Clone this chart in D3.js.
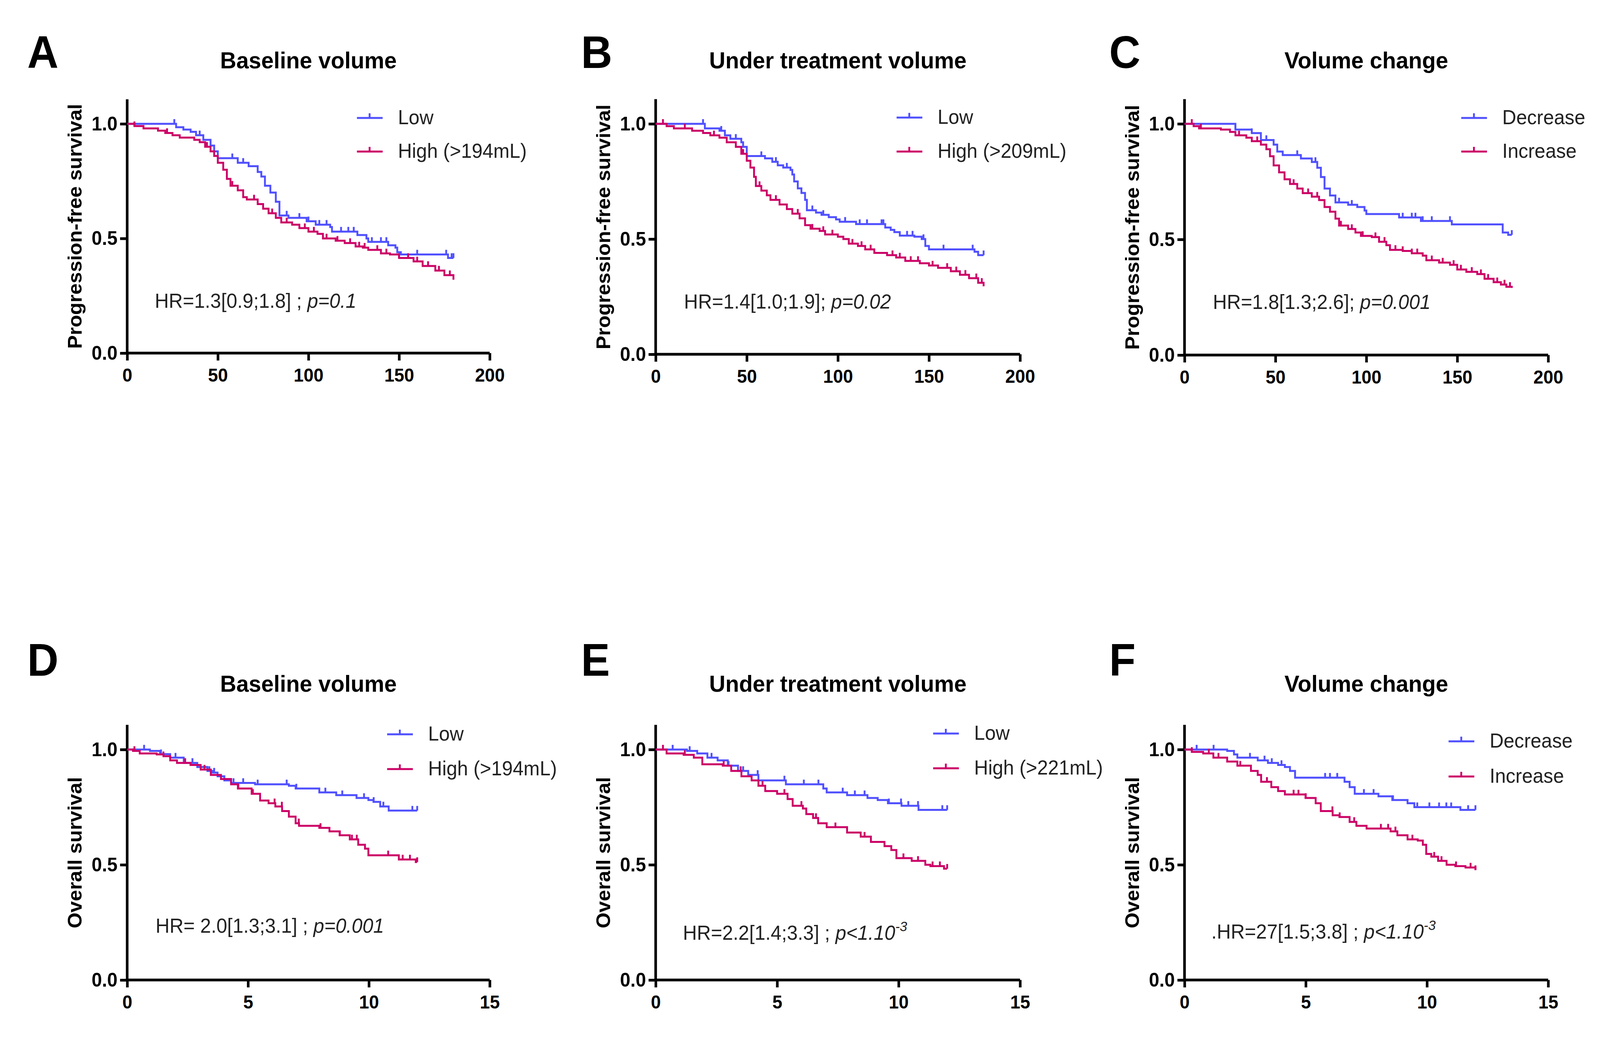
<!DOCTYPE html>
<html lang="en">
<head>
<meta charset="UTF-8">
<title>Kaplan-Meier curves by tumour volume</title>
<script src="https://d3js.org/d3.v7.min.js"></script>
<style>
  html, body { margin: 0; padding: 0; background: #fff; overflow: hidden; }
  #chart { display: block; width: 100vw; height: 100vh; }
  text { font-family: "Liberation Sans", Arial, sans-serif; }
</style>
</head>
<body>
<svg id="chart"></svg>
<script>
// ---- data: [time, survival after the step] ----
const pfsBaseLow = [[27,0.985],[31,0.975],[35,0.965],[38,0.95],[42,0.93],[46,0.905],[48,0.88],[50,0.85],[61,0.83],[67,0.815],[72,0.79],[74,0.77],[76,0.73],[79,0.70],[82,0.66],[84,0.60],[89,0.59],[99,0.575],[104,0.56],[112,0.55],[113,0.53],[127,0.515],[132,0.50],[133,0.485],[144,0.47],[148,0.46],[149,0.44],[151,0.43],[177,0.415]];
const pfsBaseHigh = [[4,0.99],[9,0.98],[17,0.97],[21,0.96],[25,0.95],[29,0.94],[37,0.93],[40,0.92],[43,0.90],[46,0.88],[48,0.86],[50,0.83],[53,0.80],[55,0.76],[57,0.73],[61,0.71],[64,0.68],[66,0.67],[72,0.65],[75,0.63],[78,0.61],[82,0.59],[85,0.57],[91,0.56],[95,0.545],[100,0.53],[105,0.52],[108,0.50],[115,0.49],[120,0.48],[126,0.465],[130,0.46],[133,0.45],[140,0.435],[145,0.43],[150,0.415],[158,0.40],[163,0.38],[170,0.36],[175,0.34],[180,0.32]];
const pfsTreatLow = [[27,0.98],[35,0.97],[38,0.95],[41,0.935],[47,0.92],[48,0.90],[50,0.86],[60,0.85],[64,0.835],[67,0.82],[70,0.81],[74,0.80],[75,0.78],[76,0.75],[78,0.72],[80,0.70],[82,0.67],[83,0.625],[88,0.615],[91,0.605],[95,0.595],[99,0.585],[101,0.575],[110,0.565],[126,0.55],[129,0.54],[131,0.53],[134,0.515],[142,0.51],[146,0.50],[148,0.47],[150,0.455],[175,0.445],[177,0.43]];
const pfsTreatHigh = [[6,0.99],[10,0.98],[20,0.97],[26,0.96],[30,0.95],[35,0.94],[39,0.92],[44,0.90],[47,0.87],[50,0.84],[52,0.81],[54,0.77],[55,0.73],[58,0.71],[61,0.69],[63,0.67],[68,0.65],[72,0.63],[75,0.61],[79,0.59],[82,0.56],[85,0.545],[90,0.535],[93,0.52],[100,0.51],[103,0.50],[106,0.48],[111,0.47],[115,0.455],[120,0.44],[127,0.43],[132,0.42],[137,0.405],[145,0.395],[150,0.385],[155,0.375],[162,0.36],[167,0.345],[172,0.33],[177,0.31],[180,0.295]];
const pfsChangeDec = [[28,0.975],[37,0.96],[42,0.93],[49,0.91],[51,0.88],[54,0.865],[64,0.85],[70,0.835],[73,0.81],[75,0.77],[77,0.72],[80,0.69],[83,0.66],[90,0.65],[95,0.64],[99,0.625],[100,0.61],[118,0.595],[130,0.58],[147,0.565],[175,0.53],[178,0.52]];
const pfsChangeInc = [[5,0.99],[8,0.98],[20,0.975],[25,0.965],[28,0.95],[34,0.94],[37,0.925],[42,0.91],[45,0.89],[47,0.86],[49,0.82],[52,0.79],[55,0.76],[58,0.74],[62,0.72],[65,0.70],[70,0.685],[74,0.67],[77,0.64],[80,0.62],[83,0.59],[85,0.56],[90,0.545],[94,0.53],[97,0.515],[103,0.51],[107,0.49],[111,0.475],[113,0.455],[120,0.45],[125,0.44],[131,0.43],[133,0.41],[140,0.40],[146,0.39],[150,0.37],[155,0.36],[161,0.35],[165,0.33],[170,0.315],[174,0.305],[177,0.295],[180,0.29]];

const osBaseLow = [[0.94,0.994],[1.36,0.98],[1.78,0.965],[2.34,0.942],[2.9,0.924],[3.32,0.907],[3.53,0.90],[3.74,0.884],[4.02,0.866],[4.3,0.855],[5.29,0.849],[6.69,0.843],[6.97,0.831],[7.95,0.814],[8.65,0.802],[9.49,0.79],[9.98,0.781],[10.19,0.773],[10.47,0.753],[10.82,0.735]];
const osBaseHigh = [[0.24,0.994],[0.52,0.983],[1.22,0.979],[1.5,0.971],[1.78,0.953],[2.06,0.942],[2.62,0.933],[3.04,0.913],[3.46,0.89],[3.88,0.872],[4.3,0.849],[4.58,0.831],[5.15,0.808],[5.5,0.779],[5.85,0.767],[6.13,0.753],[6.41,0.733],[6.69,0.709],[6.97,0.68],[7.11,0.669],[7.95,0.66],[8.37,0.645],[8.79,0.628],[9.21,0.61],[9.56,0.587],[9.84,0.57],[9.98,0.541],[11.24,0.523],[11.94,0.512]];
const osTreatLow = [[1.29,0.994],[1.71,0.983],[2.13,0.965],[2.55,0.953],[2.97,0.93],[3.39,0.907],[3.81,0.89],[4.23,0.866],[5.36,0.849],[6.9,0.831],[7.04,0.814],[7.88,0.802],[8.72,0.79],[9.14,0.781],[9.56,0.767],[10.12,0.756],[10.82,0.738]];
const osTreatHigh = [[0.45,0.983],[1.15,0.977],[1.57,0.965],[1.92,0.936],[2.76,0.93],[3.11,0.907],[3.53,0.884],[3.95,0.866],[4.23,0.843],[4.51,0.82],[5.0,0.808],[5.43,0.785],[5.64,0.756],[6.06,0.744],[6.2,0.72],[6.48,0.703],[6.69,0.68],[7.04,0.663],[7.88,0.64],[8.44,0.622],[8.86,0.599],[9.42,0.581],[9.7,0.564],[9.91,0.529],[10.54,0.517],[11.1,0.50],[11.31,0.494],[11.87,0.483]];
const osChangeDec = [[1.76,0.994],[2.04,0.979],[2.18,0.965],[3.02,0.953],[3.44,0.942],[3.86,0.933],[4.14,0.924],[4.35,0.907],[4.56,0.878],[6.6,0.86],[6.81,0.837],[7.02,0.808],[8.0,0.797],[8.57,0.781],[9.2,0.767],[9.48,0.75],[11.38,0.738]];
const osChangeInc = [[0.3,0.99],[0.77,0.983],[1.19,0.965],[1.76,0.948],[2.18,0.93],[2.74,0.907],[3.02,0.89],[3.16,0.86],[3.58,0.837],[3.86,0.82],[4.14,0.805],[4.99,0.79],[5.41,0.767],[5.62,0.733],[6.11,0.715],[6.39,0.707],[6.81,0.686],[7.09,0.669],[7.51,0.657],[8.5,0.645],[8.78,0.628],[9.2,0.61],[9.62,0.605],[9.83,0.587],[9.97,0.547],[10.18,0.535],[10.46,0.517],[10.81,0.50],[11.17,0.494],[11.59,0.488],[12.0,0.477]];

// censored times (tick marks)
const pfsBaseLowCens = [26,40,58,64,88,95,100,106,110,118,122,125,135,140,143,160,176,179,180];
const pfsBaseHighCens = [4,22,44,58,70,80,88,98,103,110,116,123,128,131,138,143,150,155,160,166,172,178];
const pfsTreatLowCens = [26,36,44,58,66,72,86,92,104,112,116,124,125,138,141,147,158,174,180];
const pfsTreatHighCens = [4,16,32,48,57,66,78,86,92,97,108,113,118,130,134,140,144,152,160,165,170,176,179];
const pfsChangeDecCens = [28,37,45,62,72,85,92,120,125,127,131,136,146,180];
const pfsChangeIncCens = [4,9,30,40,55,60,68,73,86,92,98,105,110,116,120,125,128,136,142,148,152,158,163,167,172,176,179];
const osBaseLowCens = [0.7,1.4,2.0,2.7,3.4,3.6,4.4,4.8,5.4,6.6,7.0,8.2,8.9,9.8,10.2,10.6,11.8,12.0];
const osBaseHighCens = [0.3,1.5,2.4,3.2,4.6,5.2,6.1,6.4,7.1,8.0,8.8,9.3,9.5,10.8,11.4,11.7,12.0];
const osTreatLowCens = [0.7,1.4,2.3,3.0,3.6,4.2,5.3,6.1,6.7,7.7,8.2,8.6,9.6,10.1,10.4,10.8,11.8,12.0];
const osTreatHighCens = [0.3,1.2,2.8,3.5,4.4,5.3,6.0,6.6,7.4,8.6,10.2,10.8,11.4,11.7,12.0];
const osChangeDecCens = [0.5,1.2,2.7,3.3,3.6,4.0,5.8,6.0,6.3,7.4,7.8,8.6,9.6,10.1,10.5,10.8,11.0,11.7,12.0];
const osChangeIncCens = [0.3,1.0,1.4,2.3,3.4,4.5,4.7,5.0,6.1,6.4,7.0,8.1,8.4,8.7,9.4,10.3,10.6,11.2,11.8,12.0];

const letters = ["A","B","C","D","E","F"];
const titles = ["Baseline volume","Under treatment volume","Volume change","Baseline volume","Under treatment volume","Volume change"];
const yLabels = ["Progression-free survival","Overall survival"];
const legendLabels = [["Low","High (>194mL)"],["Low","High (>209mL)"],["Decrease","Increase"],
                      ["Low","High (>194mL)"],["Low","High (>221mL)"],["Decrease","Increase"]];
const hrTexts = [["HR=1.3[0.9;1.8] ; ","p=0.1",""],["HR=1.4[1.0;1.9]; ","p=0.02",""],["HR=1.8[1.3;2.6]; ","p=0.001",""],
                 ["HR= 2.0[1.3;3.1] ; ","p=0.001",""],["HR=2.2[1.4;3.3] ; ","p<1.10","-3"],[".HR=27[1.5;3.8] ; ","p<1.10","-3"]];
const xTicksTop = [0,50,100,150,200];
const xTicksBottom = [0,5,10,15];
const yTicks = [0,0.5,1.0];
const curves = [
  [[pfsBaseLow,pfsBaseLowCens],[pfsBaseHigh,pfsBaseHighCens]],
  [[pfsTreatLow,pfsTreatLowCens],[pfsTreatHigh,pfsTreatHighCens]],
  [[pfsChangeDec,pfsChangeDecCens],[pfsChangeInc,pfsChangeIncCens]],
  [[osBaseLow,osBaseLowCens],[osBaseHigh,osBaseHighCens]],
  [[osTreatLow,osTreatLowCens],[osTreatHigh,osTreatHighCens]],
  [[osChangeDec,osChangeDecCens],[osChangeInc,osChangeIncCens]]
];

// ---- layout (pixels in a 4290 x 2678 frame) ----
const W = 4290, H = 2678;
const colX = [341, 1758, 3176];
const colW = [972, 977, 975];
const letterX = [73, 1558, 2974];
const letterY = [174, 1730];
const titleY = [175, 1771];
const axisY0 = [904, 907, 909, 2509, 2509, 2509];
const axisY1 = [317, 317, 317, 1919, 1919, 1919];
const colors = ["#5050ff", "#cc0066"];
// legend: [line start offset from y axis, y of first entry]
const legendPos = [[616, 302], [646, 301], [742, 302], [697, 1880], [744, 1878], [708, 1898]];
const legendGap = [86, 87, 86, 89, 89, 90];
const hrX = [74, 76, 76, 76, 73, 72];
const hrY = [0.198, 0.198, 0.2, 0.205, 0.175, 0.18];

// stretch the frame over the whole window
const svg = d3.select("#chart")
  .attr("viewBox", `0 0 ${W} ${H}`)
  .attr("preserveAspectRatio", "none");

letters.forEach((letter, i) => {
  const col = i % 3, row = Math.floor(i / 3);
  const x0 = colX[col], y0 = axisY0[i];
  const xMax = row === 0 ? 200 : 15;
  const x = d3.scaleLinear().domain([0, xMax]).range([x0, x0 + colW[col]]);
  const y = d3.scaleLinear().domain([0, 1]).range([y0, axisY1[i]]);

  // panel letter and title
  svg.append("text").attr("x", letterX[col]).attr("y", letterY[row])
     .attr("font-size", 116).attr("font-weight", "bold").text(letter);
  svg.append("text").attr("x", x0 + colW[col] / 2).attr("y", titleY[row])
     .attr("text-anchor", "middle").attr("font-size", 60).attr("font-weight", "bold").text(titles[i]);

  // axes
  const yAxis = svg.append("g").attr("transform", `translate(${x0},0)`)
     .call(d3.axisLeft(y).tickValues(yTicks).tickFormat(d3.format(".1f")).tickSize(19).tickPadding(7));
  yAxis.select(".domain").attr("d", `M0,${y0}V${y(1.107)}`);
  const xAxis = svg.append("g").attr("transform", `translate(0,${y0})`)
     .call(d3.axisBottom(x).tickValues(row === 0 ? xTicksTop : xTicksBottom).tickSize(19).tickPadding(20));
  xAxis.select(".domain").attr("d", `M${x0},0H${x0 + colW[col]}`);
  [yAxis, xAxis].forEach(g => {
    g.selectAll(".domain, line").attr("stroke", "#000").attr("stroke-width", 7);
    g.selectAll("text").attr("font-weight", "bold").attr("fill", "#000")
     .style("font-family", "Liberation Sans, Arial, sans-serif");
  });
  yAxis.selectAll("text").attr("font-size", 50);
  xAxis.selectAll("text").attr("font-size", 48);

  // y label
  svg.append("text")
     .attr("transform", `translate(${x0 - 122},${y(0.5) - 31}) rotate(-90)`)
     .attr("text-anchor", "middle").attr("font-size", 52).attr("font-weight", "bold")
     .text(yLabels[row]);

  // curves
  const line = d3.line().x(d => x(d[0])).y(d => y(d[1])).curve(d3.curveStepAfter);
  const end = row === 0 ? 180 : 12;
  curves[i].forEach(([steps, cens], k) => {
    const pts = [[0, 1], ...steps];
    if (pts[pts.length - 1][0] < end) pts.push([end, pts[pts.length - 1][1]]);
    svg.append("path").datum(pts).attr("d", line)
       .attr("fill", "none").attr("stroke", colors[k]).attr("stroke-width", 5);
    const survAt = t => { let s = 1; pts.forEach(p => { if (p[0] <= t) s = p[1]; }); return s; };
    svg.append("g").selectAll("line").data(cens).join("line")
       .attr("x1", d => x(d)).attr("x2", d => x(d))
       .attr("y1", d => y(survAt(d))).attr("y2", d => y(survAt(d)) - 12)
       .attr("stroke", colors[k]).attr("stroke-width", 5);
  });

  // legend
  const [lx, ly] = legendPos[i];
  legendLabels[i].forEach((lab, k) => {
    const yy = ly + k * legendGap[i];
    svg.append("line").attr("x1", x0 + lx).attr("x2", x0 + lx + 69).attr("y1", yy).attr("y2", yy)
       .attr("stroke", colors[k]).attr("stroke-width", 5);
    svg.append("line").attr("x1", x0 + lx + 34).attr("x2", x0 + lx + 34).attr("y1", yy).attr("y2", yy - 12)
       .attr("stroke", colors[k]).attr("stroke-width", 5);
    svg.append("text").attr("x", x0 + lx + 110).attr("y", yy + 16)
       .attr("font-size", 52).attr("fill", "#222").text(lab);
  });

  // hazard ratio annotation
  const hr = svg.append("text").attr("x", x0 + hrX[i]).attr("y", y(hrY[i]))
     .attr("font-size", 52).attr("fill", "#222");
  hr.append("tspan").text(hrTexts[i][0]);
  hr.append("tspan").attr("font-style", "italic").text(hrTexts[i][1]);
  if (hrTexts[i][2]) hr.append("tspan").attr("font-style", "italic").attr("font-size", 36)
     .attr("dy", -22).text(hrTexts[i][2]);
});
</script>
</body>
</html>
